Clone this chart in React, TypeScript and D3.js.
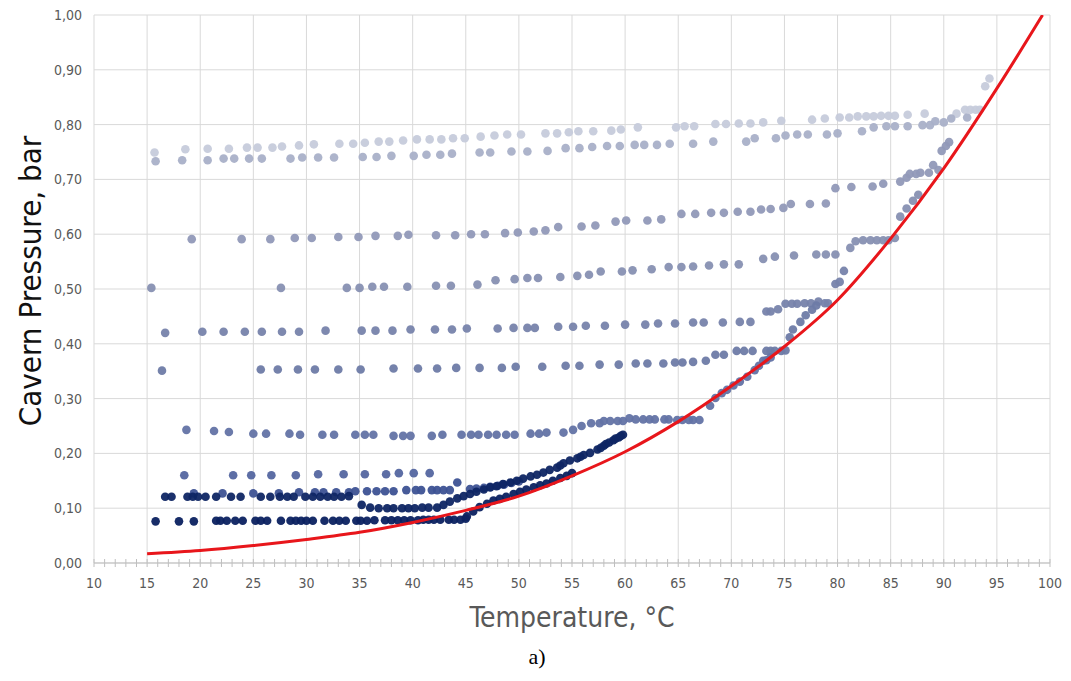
import * as d3 from 'd3';
import { useEffect } from 'react';

// temperature (°C), cavern pressure (bar)
const seriesA = [[15.7,0.749],[18.6,0.755],[20.7,0.756],[22.7,0.756],[24.4,0.758],[25.4,0.758],[26.8,0.758],[27.7,0.760],[29.3,0.762],[30.7,0.764],[33.1,0.765],[34.4,0.765],[35.5,0.767],[36.8,0.769],[37.8,0.769],[39.1,0.771],[40.4,0.773],[41.6,0.773],[42.7,0.773],[43.8,0.775],[44.9,0.775],[46.4,0.778],[47.7,0.780],[48.9,0.782],[50.2,0.782],[52.5,0.784],[53.6,0.784],[54.7,0.786],[55.6,0.788],[57.0,0.788],[58.7,0.789],[59.6,0.791],[61.2,0.795],[64.8,0.795],[65.6,0.797],[66.5,0.797],[68.5,0.801],[69.5,0.801],[70.7,0.802],[71.8,0.802],[73.0,0.804],[74.7,0.807],[77.6,0.809],[78.8,0.811],[80.2,0.813],[81.1,0.813],[81.9,0.815],[82.7,0.815],[83.4,0.815],[84.1,0.816],[84.8,0.816],[85.4,0.816],[86.6,0.818],[88.2,0.820],[91.2,0.820],[92.0,0.827],[92.5,0.827],[93.0,0.827],[93.4,0.827],[93.9,0.870],[94.3,0.884]];
const seriesB = [[15.8,0.733],[18.3,0.735],[20.7,0.735],[22.2,0.738],[23.2,0.738],[24.6,0.738],[25.8,0.738],[28.5,0.738],[29.6,0.740],[31.1,0.740],[32.6,0.740],[35.3,0.741],[36.6,0.741],[38.0,0.743],[40.1,0.743],[41.3,0.745],[42.6,0.745],[43.7,0.747],[46.3,0.749],[47.3,0.749],[49.3,0.751],[50.8,0.751],[52.7,0.752],[54.4,0.757],[55.7,0.757],[56.9,0.759],[58.3,0.761],[59.5,0.761],[60.9,0.763],[61.8,0.763],[63.0,0.763],[64.2,0.765],[66.4,0.765],[68.3,0.769],[71.4,0.769],[72.2,0.775],[74.2,0.775],[75.1,0.780],[76.2,0.782],[77.2,0.782],[79.0,0.782],[80.0,0.784],[82.3,0.788],[83.4,0.795],[84.6,0.797],[85.4,0.797],[86.6,0.797],[88.0,0.799],[88.7,0.799],[89.2,0.806],[90.0,0.804],[90.7,0.811],[92.2,0.813]];
const seriesC = [[19.2,0.591],[23.9,0.591],[26.6,0.591],[28.9,0.593],[30.5,0.593],[33.0,0.595],[34.9,0.595],[36.5,0.597],[38.6,0.597],[39.6,0.599],[42.2,0.598],[44.0,0.598],[45.5,0.600],[46.8,0.600],[48.7,0.602],[49.9,0.603],[51.4,0.605],[52.5,0.607],[53.7,0.613],[55.9,0.614],[57.2,0.616],[59.1,0.623],[60.1,0.625],[62.1,0.625],[63.4,0.627],[65.3,0.637],[66.6,0.637],[68.1,0.639],[69.3,0.639],[70.6,0.641],[71.8,0.641],[72.8,0.645],[73.7,0.646],[74.9,0.648],[75.6,0.655],[77.4,0.655],[78.9,0.656],[79.8,0.684],[81.3,0.686],[83.3,0.687],[84.3,0.692],[85.9,0.696],[86.5,0.703],[86.8,0.710],[87.4,0.710],[87.8,0.712],[88.6,0.712],[89.0,0.726],[89.5,0.717],[89.8,0.752],[90.2,0.761],[90.5,0.768]];
const seriesD = [[15.4,0.502],[27.6,0.502],[33.8,0.502],[35.0,0.502],[36.2,0.504],[37.3,0.504],[39.5,0.504],[42.2,0.506],[43.6,0.506],[46.1,0.508],[47.8,0.516],[49.6,0.518],[50.8,0.520],[51.8,0.520],[53.9,0.522],[55.5,0.524],[56.6,0.526],[57.7,0.532],[59.7,0.532],[60.7,0.534],[62.5,0.536],[64.1,0.540],[65.3,0.540],[66.4,0.541],[67.9,0.543],[69.3,0.545],[70.7,0.545],[73.0,0.555],[74.1,0.559],[75.9,0.561],[78.0,0.563],[78.9,0.563],[79.8,0.563],[81.2,0.575],[81.7,0.587],[82.4,0.589],[83.1,0.589],[83.7,0.589],[84.3,0.589],[84.8,0.589],[85.4,0.593],[85.9,0.632],[86.5,0.647],[87.1,0.661],[87.6,0.672]];
const seriesE = [[16.7,0.420],[20.2,0.422],[22.2,0.422],[24.2,0.422],[25.8,0.422],[27.7,0.422],[29.3,0.422],[31.8,0.424],[35.2,0.424],[36.5,0.424],[38.1,0.424],[39.8,0.426],[42.1,0.426],[43.7,0.426],[45.1,0.428],[48.0,0.428],[49.5,0.429],[50.8,0.429],[51.5,0.429],[53.7,0.431],[55.1,0.431],[56.3,0.433],[58.1,0.433],[60.0,0.435],[61.9,0.435],[63.1,0.437],[64.7,0.437],[66.4,0.439],[67.4,0.439],[69.2,0.439],[70.8,0.440],[71.8,0.440],[73.3,0.459],[73.7,0.459],[74.4,0.463],[75.1,0.473],[75.7,0.473],[76.2,0.473],[76.9,0.474],[77.5,0.474],[78.2,0.477],[78.8,0.474],[79.1,0.474],[79.8,0.509],[80.2,0.513],[80.6,0.533]];
const seriesF = [[16.4,0.351],[25.7,0.353],[27.3,0.353],[29.2,0.353],[30.8,0.353],[33.0,0.353],[35.1,0.353],[38.2,0.355],[40.5,0.355],[42.3,0.355],[44.1,0.356],[46.3,0.356],[48.4,0.356],[49.7,0.358],[52.2,0.358],[54.4,0.360],[55.7,0.360],[57.6,0.362],[59.4,0.362],[61.0,0.364],[62.1,0.364],[63.6,0.364],[64.7,0.366],[65.4,0.366],[66.4,0.367],[67.6,0.369],[68.5,0.380],[69.3,0.380],[70.5,0.387],[71.2,0.387],[72.0,0.387],[73.3,0.387],[73.7,0.387],[74.1,0.387],[74.7,0.387],[75.1,0.388],[75.5,0.412],[75.8,0.426],[76.5,0.440],[77.0,0.452],[77.6,0.462],[78.0,0.470]];
const seriesH = [[18.7,0.243],[21.3,0.241],[22.7,0.239],[25.0,0.236],[26.2,0.236],[28.4,0.236],[29.4,0.234],[31.5,0.234],[32.6,0.234],[34.6,0.234],[35.5,0.234],[36.3,0.234],[38.2,0.232],[39.1,0.232],[39.8,0.232],[41.8,0.232],[42.8,0.234],[44.6,0.234],[45.5,0.234],[46.2,0.234],[47.1,0.234],[47.9,0.234],[48.8,0.234],[49.6,0.234],[51.1,0.236],[51.9,0.236],[52.6,0.238],[54.2,0.238],[55.1,0.243],[55.9,0.250],[56.8,0.255],[57.6,0.255],[58.0,0.259],[58.6,0.259],[59.3,0.259],[59.8,0.259],[60.4,0.264],[61.0,0.262],[61.7,0.262],[62.3,0.262],[62.8,0.262],[63.7,0.262],[64.1,0.262],[64.9,0.261],[65.4,0.261],[66.0,0.261],[66.4,0.261],[67.0,0.261],[68.0,0.287],[68.5,0.301],[69.1,0.310],[69.6,0.316],[70.2,0.324],[70.8,0.331],[71.5,0.340],[72.2,0.352],[72.6,0.360],[73.0,0.369],[73.3,0.370],[73.7,0.375]];
const seriesI = [[18.5,0.160],[23.1,0.160],[24.8,0.160],[26.7,0.160],[29.0,0.160],[31.1,0.162],[33.5,0.162],[35.5,0.162],[37.5,0.162],[38.7,0.164],[40.1,0.164],[41.6,0.164]];
const seriesJ = [[19.4,0.127],[22.1,0.127],[25.0,0.127],[27.4,0.127],[29.3,0.129],[30.8,0.129],[31.6,0.129],[32.8,0.129],[34.0,0.129],[34.6,0.131],[35.7,0.131],[36.6,0.131],[37.4,0.131],[38.2,0.131],[39.4,0.133],[40.3,0.133],[40.8,0.133],[41.8,0.133],[42.3,0.133],[42.9,0.133],[43.5,0.133],[44.2,0.147],[45.4,0.135],[46.0,0.136],[46.7,0.137],[47.3,0.139],[48.0,0.141],[48.6,0.143],[49.3,0.146],[50.0,0.149]];
const seriesJn = [[16.7,0.121],[17.3,0.121],[18.8,0.121],[19.3,0.121],[19.8,0.121],[20.5,0.121],[21.5,0.121],[22.9,0.121],[23.8,0.121],[25.7,0.121],[26.6,0.121],[27.5,0.121],[28.2,0.121],[28.8,0.121],[29.9,0.121],[30.6,0.121],[31.3,0.121],[32.0,0.121],[32.6,0.121],[33.3,0.121],[34.0,0.122]];
const seriesK = [[35.2,0.106],[36.0,0.101],[36.8,0.100],[37.6,0.100],[38.2,0.100],[39.0,0.100],[39.6,0.100],[40.2,0.100],[40.9,0.101],[41.5,0.101],[42.3,0.101],[42.9,0.106],[43.5,0.112],[44.2,0.118],[44.8,0.122],[45.4,0.126],[46.0,0.130],[46.7,0.134],[47.3,0.138],[47.9,0.140],[48.5,0.144],[49.2,0.147],[49.8,0.150],[50.4,0.154],[51.1,0.158],[51.7,0.161],[52.3,0.165],[52.9,0.170],[53.6,0.174],[53.9,0.178],[54.2,0.182],[54.8,0.187],[55.5,0.191],[55.8,0.194],[56.1,0.197],[56.7,0.201],[57.4,0.207],[57.7,0.210],[58.0,0.214],[58.2,0.217],[58.5,0.220],[58.9,0.224],[59.1,0.227],[59.4,0.229],[59.6,0.232],[59.8,0.234]];
const seriesL = [[15.8,0.076],[18.0,0.076],[19.4,0.076],[21.5,0.077],[21.9,0.077],[22.5,0.077],[23.3,0.077],[24.0,0.077],[25.2,0.077],[25.7,0.077],[26.3,0.077],[27.6,0.077],[28.5,0.077],[29.0,0.077],[29.5,0.077],[30.0,0.077],[30.6,0.077],[31.7,0.077],[32.5,0.077],[33.1,0.077],[33.7,0.077],[34.7,0.077],[35.1,0.077],[35.7,0.077],[36.4,0.078],[37.4,0.078],[38.0,0.078],[38.6,0.078],[39.2,0.078],[39.8,0.078],[40.5,0.078],[41.0,0.079],[41.5,0.079],[42.0,0.079],[42.6,0.079],[43.4,0.079],[43.9,0.079],[44.5,0.079],[45.0,0.081],[45.1,0.085],[45.7,0.094],[46.3,0.102],[47.0,0.108],[47.6,0.114],[48.2,0.117],[48.8,0.121],[49.5,0.126],[50.1,0.130],[50.7,0.134],[51.4,0.138],[52.0,0.142],[52.6,0.145],[53.2,0.150],[53.9,0.155],[54.5,0.159],[55.0,0.164]];

// red saturation curve
const curveTemps = [15, 20, 25, 30, 35, 40, 45, 50, 55, 60, 65, 70, 75, 80, 85, 90, 95, 99.3];
const curvePres = [0.017, 0.023, 0.032, 0.043, 0.056, 0.074, 0.096, 0.122, 0.159, 0.203, 0.258, 0.323, 0.395, 0.48, 0.592, 0.72, 0.866, 1.0];

const xTicks = d3.range(10, 101, 5);
const yTicks = d3.range(0, 1.001, 0.1);

const seriesList = [
  { pts: seriesA, color: '#c6cbdb' },
  { pts: seriesB, color: '#a9b0c8' },
  { pts: seriesC, color: '#9199b8' },
  { pts: seriesD, color: '#8790b2' },
  { pts: seriesE, color: '#7783ab' },
  { pts: seriesF, color: '#6e7ba7' },
  { pts: seriesH, color: '#6373a5' },
  { pts: seriesI, color: '#5466a0' },
  { pts: seriesJ, color: '#3d5293' },
  { pts: seriesJn, color: '#0f2664' },
  { pts: seriesK, color: '#0e2563' },
  { pts: seriesL, color: '#0b2160' },
];

const W = 1071;
const H = 681;
const left = 94, right = 1050, top = 15, bottom = 563;
const font = "'Liberation Sans Narrow', 'Arial Narrow', 'DejaVu Sans Condensed', sans-serif";

export default function App() {
  useEffect(() => {
    document.body.style.margin = '0';
  }, []);

  const x = d3.scaleLinear().domain([10, 100]).range([left, right]);
  const y = d3.scaleLinear().domain([0, 1]).range([bottom, top]);
  const fmt = (v: number) => v.toFixed(2).replace('.', ',');

  const line = d3
    .line<number>()
    .x((d, i) => x(curveTemps[i]))
    .y(d => y(d))
    .curve(d3.curveMonotoneX);

  const minor = d3.range(10, 101, 1);

  return (
    <svg width={W} height={H} style={{ display: 'block', background: '#fff' }}>
      <defs>
        <clipPath id="plot">
          <rect x={left} y={top} width={right - left} height={bottom - top} />
        </clipPath>
      </defs>
      {yTicks.map(t => (
        <line key={'gy' + t} x1={left} x2={right} y1={y(t)} y2={y(t)} stroke="#d9d9d9" strokeWidth={1} />
      ))}
      {xTicks.map(t => (
        <line key={'gx' + t} x1={x(t)} x2={x(t)} y1={top} y2={bottom} stroke="#d9d9d9" strokeWidth={1} />
      ))}
      <line x1={left} x2={right} y1={bottom} y2={bottom} stroke="#bfbfbf" strokeWidth={1} />
      {minor.map(t => (
        <line key={'mt' + t} x1={x(t)} x2={x(t)} y1={bottom - 4} y2={bottom + 4} stroke="#bfbfbf" strokeWidth={1} />
      ))}
      {yTicks.map(t => (
        <text key={'ly' + t} x={left - 12} y={y(t)} dy="0.35em" textAnchor="end" fontFamily={font} fontSize={14} fill="#595959">
          {fmt(t)}
        </text>
      ))}
      {xTicks.map(t => (
        <text key={'lx' + t} x={x(t)} y={bottom + 25} textAnchor="middle" fontFamily={font} fontSize={14} fill="#595959">
          {t}
        </text>
      ))}
      <g>
        {seriesList.map((s, si) =>
          s.pts.map((p, i) => (
            <circle key={si + '-' + i} cx={x(p[0])} cy={y(p[1])} r={4.3} fill={s.color} fillOpacity={0.95} />
          ))
        )}
      </g>
      <path d={line(curvePres) || ''} fill="none" stroke="#e8161b" strokeWidth={3} clipPath="url(#plot)" />
      <text transform={`translate(30,${(top + bottom) / 2 - 8}) rotate(-90)`} textAnchor="middle" dy="0.35em" fontFamily={font} fontSize={31} fill="#111">
        Cavern Pressure, bar
      </text>
      <text x={572} y={627} textAnchor="middle" fontFamily={font} fontSize={28} fill="#595959">
        Temperature, °C
      </text>
      <text x={537} y={664} textAnchor="middle" fontFamily="'Liberation Serif', 'Times New Roman', serif" fontSize={22} fill="#000">
        a)
      </text>
    </svg>
  );
}
